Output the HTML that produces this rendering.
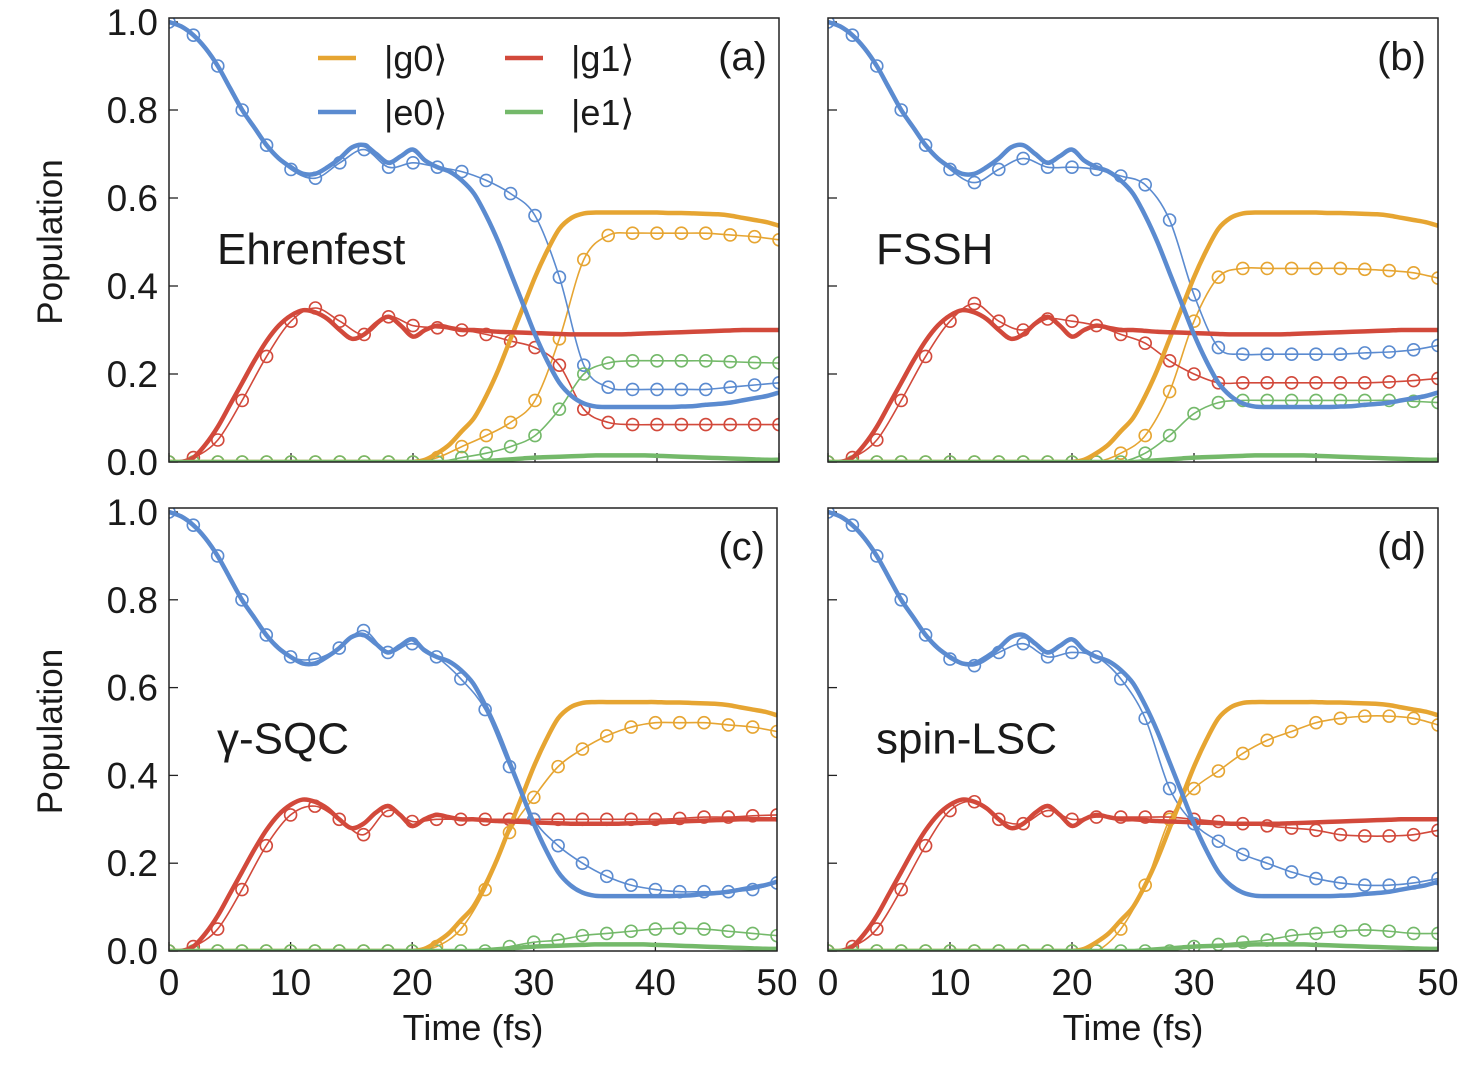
<!DOCTYPE html>
<html><head><meta charset="utf-8">
<style>
body{margin:0;background:#fff;}
svg text{font-family:"Liberation Sans","DejaVu Sans",sans-serif;fill:#1a1a1a;}
</style></head>
<body>
<svg id="fig" width="1479" height="1060" viewBox="0 0 1479 1060" xmlns="http://www.w3.org/2000/svg"></svg>
<script>
// exact (thick) reference, t = 0..50 step 1
const exactT = Array.from({length:51},(_, i)=>i);
const exactG0 = [0,0,0,0,0,0,0,0,0,0,0,0,0,0,0,0,0,0,0,0,0,0.005,0.02,0.04,0.07,0.1,0.15,0.21,0.28,0.35,0.42,0.48,0.53,0.555,0.565,0.567,0.567,0.567,0.567,0.567,0.567,0.566,0.566,0.565,0.564,0.563,0.56,0.555,0.55,0.545,0.537];
const exactG1 = [0,0,0.01,0.04,0.08,0.13,0.18,0.23,0.275,0.31,0.333,0.345,0.34,0.325,0.3,0.28,0.29,0.315,0.33,0.31,0.285,0.3,0.31,0.305,0.3,0.3,0.298,0.296,0.295,0.294,0.293,0.292,0.291,0.29,0.29,0.29,0.29,0.29,0.291,0.292,0.293,0.294,0.295,0.296,0.297,0.298,0.299,0.3,0.3,0.3,0.3];
const exactE0 = [1.0,0.99,0.97,0.94,0.9,0.85,0.8,0.76,0.72,0.69,0.67,0.655,0.655,0.67,0.69,0.715,0.72,0.7,0.68,0.695,0.71,0.685,0.67,0.66,0.64,0.61,0.56,0.5,0.43,0.36,0.29,0.23,0.18,0.15,0.133,0.126,0.125,0.125,0.125,0.125,0.125,0.125,0.126,0.127,0.13,0.132,0.135,0.14,0.145,0.15,0.158];
const exactE1 = [0,0,0,0,0,0,0,0,0,0,0,0,0,0,0,0,0,0,0,0,0,0,0,0,0,0,0.002,0.004,0.006,0.008,0.01,0.011,0.012,0.013,0.014,0.015,0.015,0.015,0.015,0.015,0.014,0.013,0.012,0.011,0.01,0.009,0.008,0.007,0.006,0.005,0.005];

// approximate methods, t = 0..50 step 2
const methodT = Array.from({length:26},(_, i)=>i*2);
const ehrG0 = [0,0,0,0,0,0,0,0,0,0,0,0.01,0.035,0.06,0.09,0.14,0.28,0.46,0.515,0.52,0.52,0.52,0.52,0.516,0.512,0.505];
const ehrG1 = [0,0.01,0.05,0.14,0.24,0.32,0.35,0.32,0.29,0.33,0.31,0.305,0.3,0.29,0.275,0.26,0.22,0.12,0.09,0.085,0.085,0.085,0.085,0.085,0.085,0.085];
const ehrE0 = [1.0,0.97,0.9,0.8,0.72,0.665,0.645,0.68,0.71,0.67,0.68,0.67,0.66,0.64,0.61,0.56,0.42,0.22,0.17,0.165,0.165,0.165,0.165,0.17,0.175,0.18];
const ehrE1 = [0,0,0,0,0,0,0,0,0,0,0,0,0.01,0.02,0.035,0.06,0.12,0.2,0.225,0.23,0.23,0.23,0.23,0.228,0.226,0.225];

const fsshG0 = [0,0,0,0,0,0,0,0,0,0,0,0,0.02,0.06,0.16,0.32,0.42,0.44,0.44,0.44,0.44,0.44,0.438,0.435,0.43,0.418];
const fsshG1 = [0,0.01,0.05,0.14,0.24,0.32,0.36,0.32,0.3,0.325,0.32,0.31,0.29,0.27,0.23,0.2,0.18,0.18,0.18,0.18,0.18,0.18,0.18,0.182,0.185,0.19];
const fsshE0 = [1.0,0.97,0.9,0.8,0.72,0.665,0.635,0.665,0.69,0.67,0.67,0.665,0.65,0.63,0.55,0.38,0.26,0.245,0.245,0.245,0.245,0.245,0.248,0.25,0.255,0.265];
const fsshE1 = [0,0,0,0,0,0,0,0,0,0,0,0,0,0.02,0.06,0.11,0.135,0.14,0.14,0.14,0.14,0.14,0.14,0.14,0.138,0.135];

const sqcG0 = [0,0,0,0,0,0,0,0,0,0,0,0.01,0.05,0.14,0.27,0.35,0.42,0.46,0.49,0.51,0.52,0.52,0.52,0.515,0.51,0.5];
const sqcG1 = [0,0.01,0.05,0.14,0.24,0.31,0.33,0.3,0.265,0.32,0.295,0.3,0.3,0.3,0.3,0.3,0.3,0.3,0.3,0.3,0.3,0.302,0.305,0.305,0.308,0.31];
const sqcE0 = [1.0,0.97,0.9,0.8,0.72,0.67,0.665,0.69,0.73,0.68,0.7,0.67,0.62,0.55,0.42,0.3,0.24,0.2,0.17,0.15,0.14,0.135,0.135,0.135,0.14,0.155];
const sqcE1 = [0,0,0,0,0,0,0,0,0,0,0,0,0,0,0.01,0.02,0.025,0.035,0.04,0.045,0.05,0.052,0.05,0.045,0.04,0.035];

const lscG0 = [0,0,0,0,0,0,0,0,0,0,0,0,0.05,0.15,0.3,0.37,0.41,0.45,0.48,0.5,0.52,0.53,0.535,0.535,0.53,0.515];
const lscG1 = [0,0.01,0.05,0.14,0.24,0.32,0.34,0.3,0.29,0.32,0.3,0.305,0.305,0.305,0.305,0.3,0.295,0.29,0.285,0.28,0.275,0.265,0.262,0.262,0.265,0.275];
const lscE0 = [1.0,0.97,0.9,0.8,0.72,0.665,0.65,0.68,0.7,0.67,0.68,0.67,0.62,0.53,0.37,0.29,0.25,0.22,0.2,0.18,0.165,0.155,0.15,0.15,0.155,0.165];
const lscE1 = [0,0,0,0,0,0,0,0,0,0,0,0,0,0,0,0.01,0.015,0.02,0.025,0.035,0.04,0.045,0.048,0.045,0.04,0.04];

const xTicks = [0,10,20,30,40,50];
const yTicks = [0,0.2,0.4,0.6,0.8,1.0];
const yTickLabels = ["0.0","0.2","0.4","0.6","0.8","1.0"];
const panelLetters = ["(a)","(b)","(c)","(d)"];
const methodNames = ["Ehrenfest","FSSH","γ-SQC","spin-LSC"];

const COL = {g0:"#e6a532", g1:"#d2493b", e0:"#5b8bd0", e1:"#74b96a"};
const NS = "http://www.w3.org/2000/svg";
const svg = document.getElementById('fig');
function mk(tag, attrs, parent){const e=document.createElementNS(NS,tag);for(const k in attrs)e.setAttribute(k,attrs[k]);(parent||svg).appendChild(e);return e;}

const panels = [
  {x0:169,x1:779,yTop:18,y0:462,y1:22, letter:0, name:0, data:[ehrG0,ehrG1,ehrE0,ehrE1], yl:true, xl:false},
  {x0:828,x1:1438,yTop:18,y0:462,y1:22, letter:1, name:1, data:[fsshG0,fsshG1,fsshE0,fsshE1], yl:false, xl:false},
  {x0:169,x1:777,yTop:508,y0:951,y1:512, letter:2, name:2, data:[sqcG0,sqcG1,sqcE0,sqcE1], yl:true, xl:true},
  {x0:828,x1:1438,yTop:508,y0:951,y1:512, letter:3, name:3, data:[lscG0,lscG1,lscE0,lscE1], yl:false, xl:true},
];
const keys=["g0","g1","e0","e1"];

function smoothPath(pts){
  let d=`M${pts[0][0]},${pts[0][1]}`;
  for(let i=0;i<pts.length-1;i++){
    const p0=pts[Math.max(i-1,0)],p1=pts[i],p2=pts[i+1],p3=pts[Math.min(i+2,pts.length-1)];
    const c1=[p1[0]+(p2[0]-p0[0])/6,p1[1]+(p2[1]-p0[1])/6];
    const c2=[p2[0]-(p3[0]-p1[0])/6,p2[1]-(p3[1]-p1[1])/6];
    d+=` C${c1[0]},${c1[1]} ${c2[0]},${c2[1]} ${p2[0]},${p2[1]}`;
  }
  return d;
}

panels.forEach((P,pi)=>{
  const g=mk('g',{});
  
  
  const sx=t=>P.x0+(t/50)*(P.x1-P.x0);
  const sy=v=>P.y0-v*(P.y0-P.y1);
  const clipId='clip'+pi;
  const cp=mk('clipPath',{id:clipId},g);
  mk('rect',{x:P.x0,y:P.yTop,width:P.x1-P.x0,height:P.y0-P.yTop},cp);
  yTicks.forEach((v,i)=>{
    const tk=mk('line',{x1:P.x0,x2:P.x0+9,y1:sy(v),y2:sy(v),stroke:'#222','stroke-width':1.3},g);
    
    
    if(P.yl){
      const tl=mk('text',{x:P.x0-11,y:sy(v)+13,'text-anchor':'end','font-size':37},g);
      tl.textContent=yTickLabels[i];
      
      
    }
  });
  xTicks.forEach(v=>{
    const tk=mk('line',{x1:sx(v),x2:sx(v),y1:P.y0,y2:P.y0-9,stroke:'#222','stroke-width':1.3},g);
    
    
    if(P.xl){
      const tl=mk('text',{x:sx(v),y:P.y0+44,'text-anchor':'middle','font-size':37},g);
      tl.textContent=String(v);
      
      
    }
  });
  const plot=mk('g',{'clip-path':`url(#${clipId})`},g);
  P.data.forEach((arr,k)=>{
    const pts=methodT.map((t,i)=>[sx(t),sy(arr[i])]);
    const ln=mk('path',{d:smoothPath(pts),fill:'none',stroke:COL[keys[k]],'stroke-width':1.6},plot);
    
    
    pts.forEach(p=>{
      const c=mk('circle',{cx:p[0],cy:p[1],r:6,fill:'none',stroke:COL[keys[k]],'stroke-width':1.6},plot);
      
      
    });
  });
  [exactG0,exactG1,exactE1,exactE0].forEach((arr,j)=>{
    const key=["g0","g1","e1","e0"][j];
    const pts=exactT.map((t,i)=>[sx(t),sy(arr[i])]);
    const ln=mk('path',{d:smoothPath(pts),fill:'none',stroke:COL[key],'stroke-width':4.5,'stroke-linejoin':'round'},plot);
    
    
  });
  const fr=mk('rect',{x:P.x0,y:P.yTop,width:P.x1-P.x0,height:P.y0-P.yTop,fill:'none',stroke:'#222','stroke-width':1.5},g);
  
  
  const lt=mk('text',{x:P.x1-12,y:P.yTop+52,'text-anchor':'end','font-size':40},g);
  lt.textContent=panelLetters[P.letter];
  
  
  const mt=mk('text',{x:P.x0+48,y:sy(0.45),'font-size':44},g);
  mt.textContent=methodNames[P.name];
  
  
  if(P.yl){
    const yt=mk('text',{transform:`translate(62,${(P.y0+P.y1)/2}) rotate(-90)`,'text-anchor':'middle','font-size':35},g);
    yt.textContent='Population';
    
    
  }
  if(P.xl){
    const xt=mk('text',{x:(P.x0+P.x1)/2,y:1040,'text-anchor':'middle','font-size':36},g);
    xt.textContent='Time (fs)';
    
    
  }
});

const legendItems=[["g0","|g0⟩",318,58],["g1","|g1⟩",505,58],["e0","|e0⟩",318,112],["e1","|e1⟩",505,112]];
legendItems.forEach(L=>{
  const lg=mk('g',{});
  
  
  mk('line',{x1:L[2],x2:L[2]+38,y1:L[3],y2:L[3],stroke:COL[L[0]],'stroke-width':4.5},lg);
  const t=mk('text',{x:L[2]+66,y:L[3]+13,'font-size':36},lg);
  t.textContent=L[1];
});
</script>
</body></html>
